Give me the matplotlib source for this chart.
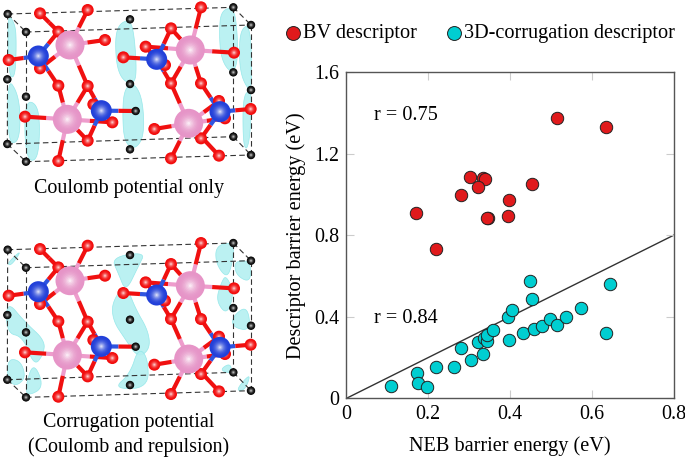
import matplotlib.pyplot as plt
from matplotlib.patches import Circle, Polygon

plt.rcParams['font.family'] = ['Liberation Serif', 'DejaVu Serif']

# scatter data
bv_neb = [.516, .635, .303, .333, .338, .321, .281, .455, .398, .395, .345, .343, .171, .219]
bv_desc = [1.376, 1.331, 1.085, 1.082, 1.074, 1.036, 1.0, 1.054, .972, .894, .885, .885, .908, .733]
corr_neb = [.108, .172, .175, .197, .219, .263, .281, .304, .333, .322, .336, .343, .344, .359,
            .395, .404, .397, .431, .449, .455, .459, .478, .498, .516, .537, .574, .635, .645]
corr_desc = [.061, .126, .074, .054, .155, .152, .247, .188, .216, .275, .295, .283, .313, .337,
             .398, .434, .286, .321, .574, .489, .339, .357, .388, .362, .401, .442, .321, .563]
ticks_x = [0, 0.2, 0.4, 0.6, 0.8]
ticks_y = [0, 0.4, 0.8, 1.2, 1.6]
tick_labels_x = ['0', '0.2', '0.4', '0.6', '0.8']
tick_labels_y = ['0', '0.4', '0.8', '1.2', '1.6']

# crystal structure, in pixels x 3
pink_atoms = [(210, 135), (571, 150), (202, 358), (566, 370)]
blue_atoms = [(115, 168), (304, 332), (470, 178), (660, 335)]
red_atoms = [(120, 40), (263, 30), (175, 95), (315, 120), (26, 180), (120, 205), (175, 257),
             (263, 258), (280, 313), (337, 367), (263, 422), (75, 350), (175, 483), (370, 172),
             (437, 140), (495, 195), (513, 85), (603, 22), (702, 158), (513, 250), (603, 250),
             (657, 303), (675, 355), (463, 387), (603, 415), (513, 475), (657, 467), (752, 327)]
black_atoms = [(23, 42), (78, 96), (22, 238), (78, 290), (22, 432), (78, 485), (390, 58), (390, 252),
               (390, 448), (700, 22), (753, 75), (700, 217), (753, 270), (700, 410), (753, 465), (407, 333)]
pink_bonds = [[(263, 30), (175, 95), (315, 120), (263, 258), (120, 205)],
              [(603, 22), (513, 85), (702, 158), (437, 140), (513, 250), (603, 250)],
              [(263, 258), (175, 257), (75, 350), (175, 483), (263, 422), (337, 367)],
              [(513, 250), (463, 387), (513, 475), (657, 467), (603, 415), (657, 303), (675, 355)]]
blue_bonds = [[(26, 180), (175, 95), (120, 205), (175, 257)],
              [(263, 258), (280, 313), (407, 333), (337, 367), (263, 422)],
              [(370, 172), (437, 140), (513, 85), (495, 195), (513, 250)],
              [(603, 250), (657, 303), (675, 355), (752, 327), (603, 415)]]
cell_edges = [((23, 42), (700, 22)), ((78, 96), (753, 75)), ((22, 432), (700, 410)), ((78, 485), (753, 465)),
              ((23, 42), (22, 432)), ((78, 96), (78, 485)), ((700, 22), (700, 410)), ((753, 75), (753, 465)),
              ((23, 42), (78, 96)), ((22, 432), (78, 485)), ((700, 22), (753, 75)), ((700, 410), (753, 465))]
coulomb_blobs = [
    [(25, 50), (45, 80), (48, 130), (45, 220), (30, 225), (25, 150)],
    [(25, 245), (50, 280), (60, 340), (55, 420), (25, 420)],
    [(80, 310), (110, 320), (118, 380), (112, 470), (85, 475), (75, 400)],
    [(350, 90), (385, 65), (400, 100), (408, 220), (395, 245), (365, 230), (350, 180)],
    [(375, 275), (400, 255), (425, 300), (430, 400), (405, 440), (375, 420), (370, 340)],
    [(665, 40), (700, 30), (710, 100), (710, 190), (690, 210), (665, 170), (660, 100)],
    [(720, 100), (750, 80), (755, 240), (745, 265), (720, 210)],
    [(730, 290), (755, 280), (750, 400), (740, 445), (730, 420)]]
corrugation_blobs = [
    [(22, 100), (65, 60), (35, 105)],
    [(25, 220), (75, 280), (130, 330), (125, 370), (100, 400), (70, 320), (25, 310)],
    [(25, 390), (60, 395), (75, 440), (50, 465), (25, 450)],
    [(100, 400), (130, 470), (85, 495), (78, 470)],
    [(338, 85), (432, 70), (412, 110), (378, 180), (358, 130)],
    [(378, 170), (340, 225), (345, 275), (375, 320), (412, 375), (445, 350), (440, 300), (405, 240)],
    [(414, 360), (440, 385), (442, 470), (345, 472), (392, 430)],
    [(650, 50), (700, 40), (695, 100), (680, 140), (650, 100)],
    [(678, 140), (700, 190), (680, 250), (650, 210), (665, 160)],
    [(705, 95), (750, 95), (750, 155), (710, 135)],
    [(700, 260), (740, 230), (750, 300), (700, 290)],
    [(708, 480), (752, 430), (735, 480)],
    [(660, 420), (690, 400), (695, 430)]]


def shade(c, f):
    return tuple(v + (1 - v) * f for v in c)


def smooth(pts, rounds=3):
    # corner cutting so the isosurface blobs come out rounded
    cx = sum(p[0] for p in pts) / len(pts)
    cy = sum(p[1] for p in pts) / len(pts)
    pts = [(cx + 1.1 * (p[0] - cx), cy + 1.1 * (p[1] - cy)) for p in pts]
    for _ in range(rounds):
        new = []
        for i in range(len(pts)):
            p, q = pts[i], pts[(i + 1) % len(pts)]
            new.append((0.75 * p[0] + 0.25 * q[0], 0.75 * p[1] + 0.25 * q[1]))
            new.append((0.25 * p[0] + 0.75 * q[0], 0.25 * p[1] + 0.75 * q[1]))
        pts = new
    return pts


def draw_atom(ax, p, r, col, dy):
    x, y = p[0] / 3, p[1] / 3 + dy
    n = 10
    for i in range(n):
        rr = r * (1 - i / n)
        ax.add_patch(Circle((x, y), rr, fc=shade(col, (i / n) ** 2.2), ec='none', zorder=5))


def draw_bond(ax, a, b, col1, col2, dy):
    x1, y1 = a[0] / 3, a[1] / 3 + dy
    x2, y2 = b[0] / 3, b[1] / 3 + dy
    mx, my = (x1 + x2) / 2, (y1 + y2) / 2
    ax.plot([x1, mx], [y1, my], color=col1, lw=3, solid_capstyle='butt', zorder=3)
    ax.plot([mx, x2], [my, y2], color=col2, lw=3, solid_capstyle='butt', zorder=3)


def draw_structure(ax, blobs, dy, blob_dy):
    for blob in blobs:
        pts = smooth([(x / 3, y / 3 + blob_dy) for x, y in blob])
        ax.add_patch(Polygon(pts, closed=True, fc='#b4f0f1', ec='#8fe6e8', lw=0.5, alpha=0.9, zorder=1))
    for a, b in cell_edges:
        ax.plot([a[0] / 3, b[0] / 3], [a[1] / 3 + dy, b[1] / 3 + dy], color='#333333', lw=0.8,
                ls=(0, (5, 3)), zorder=2)
    for centre, others in zip(pink_atoms, pink_bonds):
        for o in others:
            draw_bond(ax, centre, o, '#ee9ccc', '#f01010', dy)
    for centre, others in zip(blue_atoms, blue_bonds):
        for o in others:
            draw_bond(ax, centre, o, '#2f55e0', '#f01010', dy)
    draw_bond(ax, red_atoms[0], red_atoms[2], '#f01010', '#f01010', dy)
    for p in black_atoms:
        draw_atom(ax, p, 4.2, (0.05, 0.05, 0.05), dy)
    for p in red_atoms:
        draw_atom(ax, p, 6, (0.95, 0.05, 0.05), dy)
    for p in pink_atoms:
        draw_atom(ax, p, 14.5, (0.90, 0.58, 0.78), dy)
    for p in blue_atoms:
        draw_atom(ax, p, 10.5, (0.13, 0.25, 0.85), dy)


fig = plt.figure(figsize=(6.85, 4.58), dpi=100)

left = fig.add_axes([0, 0, 1, 1])
left.set_xlim(0, 685)
left.set_ylim(458, 0)
left.axis('off')
draw_structure(left, coulomb_blobs, 0, 0)
draw_structure(left, corrugation_blobs, 235.7, 230)
left.text(129, 188, 'Coulomb potential only', ha='center', va='center', fontsize=14.4)
left.text(129, 423, 'Corrugation potential', ha='center', va='center', fontsize=14.4)
left.text(129, 447, '(Coulomb and repulsion)', ha='center', va='center', fontsize=14.4)

ax = fig.add_axes([346.5 / 685, (458 - 398.3) / 458, 327 / 685, 326 / 458])
ax.plot([0, 0.8], [0, 0.8], color='#333333', lw=1, zorder=1)
ax.scatter(bv_neb, bv_desc, s=80, c='#e01a1c', edgecolors='#222222', linewidths=0.7, zorder=3,
           label='BV descriptor')
ax.scatter(corr_neb, corr_desc, s=80, c='#00ced1', edgecolors='#222222', linewidths=0.7, zorder=3,
           label='3D-corrugation descriptor')
ax.set_xlim(0, 0.8)
ax.set_ylim(0, 1.6)
ax.set_xticks(ticks_x)
ax.set_xticklabels(tick_labels_x)
ax.set_yticks(ticks_y)
ax.set_yticklabels(tick_labels_y)
ax.tick_params(direction='in', top=True, right=True, length=6, width=0.8, color='#cccccc',
               labelsize=14.4, pad=5)
for s in ax.spines.values():
    s.set_color('#555555')
    s.set_linewidth(1)
ax.set_xlabel('NEB barrier energy (eV)', fontsize=14.6, labelpad=9)
ax.set_ylabel('Descriptor barrier energy (eV)', fontsize=14.6, labelpad=6)
ax.text(0.067, 1.39, 'r = 0.75', fontsize=14.6, va='center')
ax.text(0.067, 0.39, 'r = 0.84', fontsize=14.6, va='center')
ax.legend(loc='lower left', bbox_to_anchor=(-0.225, 1.09), ncols=2, frameon=False, fontsize=14.6,
          handletextpad=-0.5, columnspacing=0.8, borderaxespad=0, borderpad=0, markerscale=1.12)

fig.savefig('out.png', dpi=100)
